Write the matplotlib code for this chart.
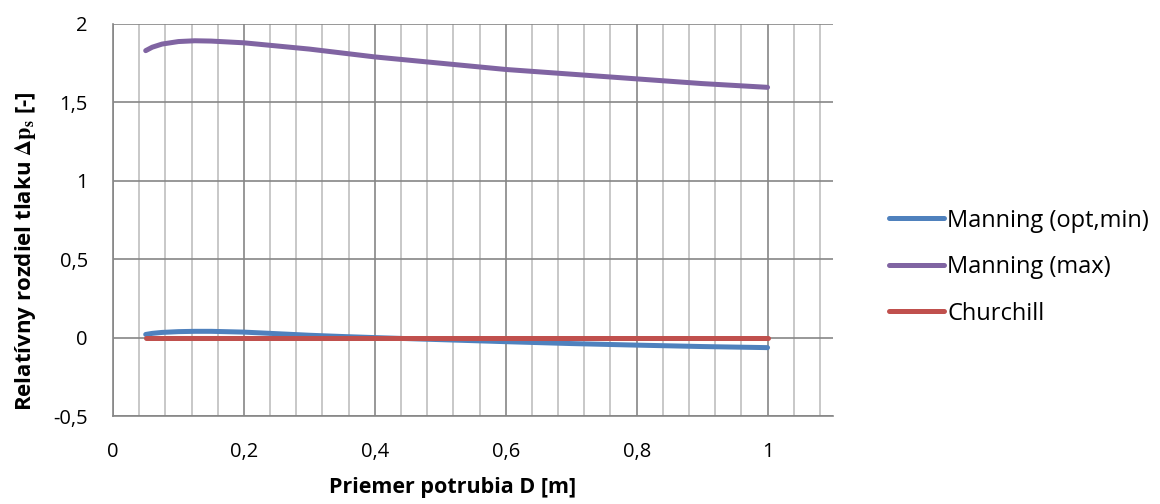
import matplotlib.pyplot as plt
from matplotlib.ticker import MultipleLocator, FuncFormatter

plt.rcParams['font.family'] = ['Open Sans', 'DejaVu Sans']
plt.rcParams['mathtext.fontset'] = 'stix'

# priemer potrubia D [m]
D = [0.05, 0.06, 0.075, 0.1, 0.125, 0.15, 0.2, 0.25, 0.3, 0.35, 0.4, 0.5, 0.6, 0.7, 0.8, 0.9, 1.0]

manning_opt = [0.02, 0.027, 0.033, 0.038, 0.04, 0.04, 0.035, 0.025, 0.015, 0.007, 0.0,
               -0.013, -0.026, -0.038, -0.048, -0.057, -0.064]
manning_max = [1.83, 1.852, 1.872, 1.888, 1.893, 1.891, 1.88, 1.86, 1.84, 1.815, 1.79,
               1.75, 1.71, 1.68, 1.65, 1.62, 1.596]
churchill = [0.0] * len(D)

labels = ['Manning (opt,min)', 'Manning (max)', 'Churchill']
colors = ['#4F81BD', '#8064A2', '#C0504D']

fig = plt.figure(figsize=(11.6, 5.04), dpi=100)
ax = fig.add_axes([0.0974, 0.1746, 0.6207, 0.7778])

for y, lab, c in zip([manning_opt, manning_max, churchill], labels, colors):
    ax.plot(D, y, color=c, lw=3.6, label=lab, solid_capstyle='round',
            solid_joinstyle='round', zorder=3)

ax.set_xlim(0, 1.1)
ax.set_ylim(-0.5, 2)
ax.xaxis.set_major_locator(MultipleLocator(0.2))
ax.xaxis.set_minor_locator(MultipleLocator(0.04))
ax.yaxis.set_major_locator(MultipleLocator(0.5))

fmt = FuncFormatter(lambda v, p: ('%g' % round(v, 2)).replace('.', ','))
ax.xaxis.set_major_formatter(fmt)
ax.yaxis.set_major_formatter(fmt)

ax.grid(True, which='minor', axis='x', color='#bfbfbf', lw=1.2)
ax.grid(True, which='major', axis='x', color='#868686', lw=1.2)
ax.grid(True, which='major', axis='y', color='#868686', lw=1.2)
ax.set_axisbelow(True)

for s in ['top', 'right']:
    ax.spines[s].set_visible(False)
for s in ['left', 'bottom']:
    ax.spines[s].set_color('#868686')
    ax.spines[s].set_linewidth(1.2)

ax.tick_params(which='both', length=0, labelsize=14.5)
ax.tick_params(axis='x', pad=19)
ax.tick_params(axis='y', pad=18)

ax.set_xlabel('Priemer potrubia D [m]', fontsize=15.5, fontweight='bold')
ax.set_ylabel(r'Relatívny rozdiel tlaku $\mathbf{\Delta p_s}$ [-]', fontsize=16,
              fontweight='bold')
ax.xaxis.set_label_coords(0.471, -0.155)
ax.yaxis.set_label_coords(-0.104, 0.42)

ax.legend(loc='center left', bbox_to_anchor=(0.748, 0.47), bbox_transform=fig.transFigure,
          frameon=False, fontsize=17, handlelength=2.33, handletextpad=0.15,
          labelspacing=0.95)

fig.savefig('out.png', dpi=100)
